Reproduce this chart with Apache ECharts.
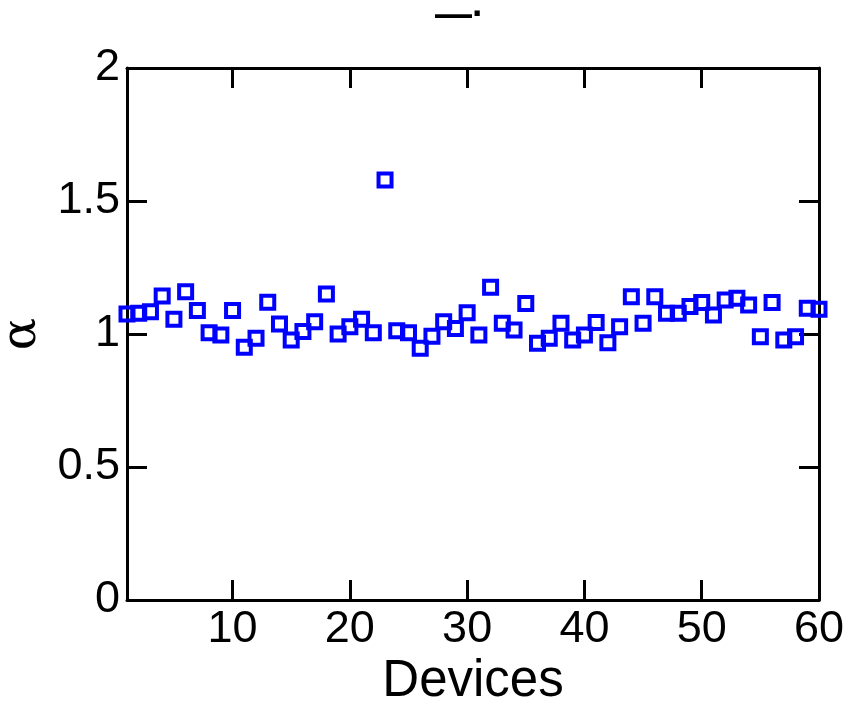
<!DOCTYPE html>
<html>
<head>
<meta charset="utf-8">
<script src="https://cdn.jsdelivr.net/npm/echarts@6/dist/echarts.min.js"></script>
<style>html,body{margin:0;padding:0;background:#fff}#c{width:850px;height:704px}</style>
</head>
<body>
<div id="c"></div>
<script>
const devices = [];
for (let i = 1; i <= 60; i++) devices.push(i);
const alphaValues = [
  1.075, 1.078, 1.084, 1.143, 1.055, 1.159, 1.088, 1.005, 0.996, 1.088,
  0.950, 0.984, 1.119, 1.038, 0.977, 1.009, 1.046, 1.150, 1.000, 1.027,
  1.055, 1.005, 1.579, 1.012, 1.005, 0.946, 0.992, 1.046, 1.021, 1.080,
  0.996, 1.176, 1.040, 1.015, 1.115, 0.965, 0.984, 1.040, 0.977, 0.996,
  1.043, 0.967, 1.027, 1.140, 1.040, 1.140, 1.078, 1.078, 1.103, 1.118,
  1.071, 1.128, 1.134, 1.109, 0.990, 1.118, 0.977, 0.990, 1.097, 1.093
];
const xTickValues = [10, 20, 30, 40, 50, 60];
const titleText = '—·';
const xName = 'Devices';
const yName = 'α';

const points = devices.map((d, i) => [d, alphaValues[i]]);
const font = 'Liberation Sans';
const lineStyle = { color: '#000', width: 3 };

const chart = echarts.init(document.getElementById('c'), null, { renderer: 'canvas' });
chart.setOption({
  animation: false,
  backgroundColor: '#fff',
  title: {
    text: titleText, left: 430, top: -8,
    textStyle: { fontFamily: font, fontSize: 37, fontWeight: 'bold', color: '#000' }
  },
  grid: { left: 127, right: 31, top: 68, bottom: 104, containLabel: false, outerBoundsMode: 'none' },
  xAxis: [{
    type: 'value', min: 1, max: 60, position: 'bottom',
    name: xName, nameLocation: 'middle', nameGap: 55,
    nameTextStyle: { fontFamily: font, fontSize: 51, color: '#000' },
    axisLine: { show: true, onZero: false, lineStyle },
    axisTick: { show: true, inside: true, length: 20, customValues: xTickValues, lineStyle },
    axisLabel: { show: true, margin: 7, customValues: xTickValues, fontFamily: font, fontSize: 45, color: '#000' },
    splitLine: { show: false }
  }, {
    type: 'value', min: 1, max: 60, position: 'top',
    axisLine: { show: true, onZero: false, lineStyle },
    axisTick: { show: true, inside: true, length: 20, customValues: xTickValues, lineStyle },
    axisLabel: { show: false },
    splitLine: { show: false }
  }],
  yAxis: [{
    type: 'value', min: 0, max: 2, interval: 0.5, position: 'left',
    name: yName, nameLocation: 'middle', nameGap: 79,
    nameTextStyle: { fontFamily: 'DejaVu Serif', fontSize: 48, color: '#000' },
    axisLine: { show: true, onZero: false, lineStyle },
    axisTick: { show: true, inside: true, length: 20, lineStyle },
    axisLabel: { show: true, margin: 7, fontFamily: font, fontSize: 45, color: '#000',
      formatter: v => String(v) },
    splitLine: { show: false }
  }, {
    type: 'value', min: 0, max: 2, interval: 0.5, position: 'right',
    axisLine: { show: true, onZero: false, lineStyle },
    axisTick: { show: true, inside: true, length: 20, lineStyle },
    axisLabel: { show: false },
    splitLine: { show: false }
  }],
  series: [{
    type: 'scatter',
    xAxisIndex: 0, yAxisIndex: 0,
    data: points,
    symbol: 'rect',
    symbolSize: 13,
    itemStyle: { color: 'rgba(0,0,0,0)', borderColor: '#0000ff', borderWidth: 4, opacity: 1 },
    clip: false
  }]
});
</script>
</body>
</html>
